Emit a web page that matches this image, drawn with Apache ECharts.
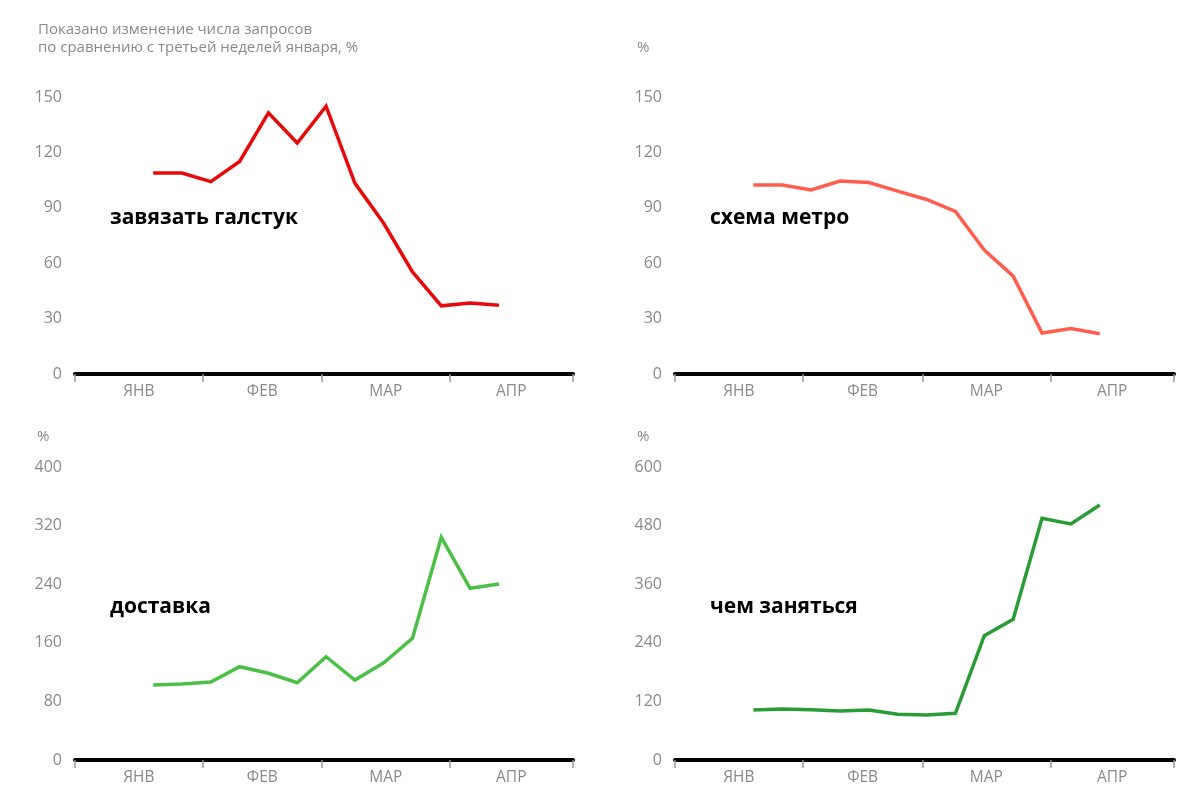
<!DOCTYPE html>
<html>
<head>
<meta charset="utf-8">
<script src="https://cdn.jsdelivr.net/npm/echarts@6/dist/echarts.min.js"></script>
<style>
html,body{margin:0;padding:0;background:#fff;}
#c{width:1200px;height:810px;}
</style>
</head>
<body>
<div id="c"></div>
<script>
// ---- data ----
const weeks = ['2020-01-20','2020-01-27','2020-02-03','2020-02-10','2020-02-17','2020-02-24',
  '2020-03-02','2020-03-09','2020-03-16','2020-03-23','2020-03-30','2020-04-06','2020-04-13'];
const monthNames = ['ЯНВ','ФЕВ','МАР','АПР'];
const monthStarts = ['2020-01-01','2020-02-01','2020-03-01','2020-04-01','2020-05-01'];
const tieValues = [108.8,108.8,104.2,115.1,141.4,125.1,145.0,103.4,81.6,55.3,36.9,38.5,37.2];
const metroValues = [102.4,102.4,99.7,104.5,103.7,99.0,94.5,88.0,67.1,53.0,22.2,24.6,21.8];
const deliveryValues = [102.4,103.8,106.5,127.4,118.4,105.5,141.0,109.2,132.8,166.1,304,234.4,240.3];
const whatToDoValues = [102.4,104.4,103.0,100.3,102.4,93.6,92.2,95.6,254.5,288.1,495,483.3,522.2];
const seriesNames = ['завязать галстук','схема метро','доставка','чем заняться'];
const yMax = [150,150,400,600];
const yStep = [30,30,80,120];
const colors = ['#e60a0a','#ff5e4e','#4cc046','#2a9c36'];
const headerText = ['Показано изменение числа запросов','по сравнению с третьей неделей января, %'];

// ---- helpers ----
const base = Date.UTC(2020,0,1);
function dayOf(s){const p=s.split('-').map(Number);return (Date.UTC(p[0],p[1]-1,p[2])-base)/86400000;}
const tickDays = monthStarts.map(dayOf);
const labelDays = tickDays.slice(0,4).map((d,i)=>(d+tickDays[i+1])/2);
const allValues = [tieValues,metroValues,deliveryValues,whatToDoValues];

const grids = [
  {left:75, width:498, top:97, height:277},
  {left:675, width:499, top:97, height:277},
  {left:75, width:498, top:467, height:293},
  {left:675, width:499, top:467, height:293}
];
const font = '"Open Sans", "Noto Sans", sans-serif';
const gray = '#8a8a8a';

const xAxis = [], yAxis = [], series = [];
for(let i=0;i<4;i++){
  xAxis.push({
    type:'value', gridIndex:i, min:0, max:tickDays[4],
    axisLine:{show:true, onZero:false, lineStyle:{color:'#000', width:4}},
    axisTick:{show:true, customValues:tickDays, length:8, lineStyle:{color:'#999', width:1.5}},
    axisLabel:{show:true, customValues:labelDays, color:gray, fontSize:15.5, fontFamily:font, margin:10,
      formatter:function(v){const k=labelDays.findIndex(d=>Math.abs(d-v)<0.01);return k>=0?monthNames[k]:'';}},
    splitLine:{show:false}
  });
  yAxis.push({
    type:'value', gridIndex:i, min:0, max:yMax[i], interval:yStep[i],
    axisLine:{show:false}, axisTick:{show:false}, splitLine:{show:false},
    axisLabel:{color:gray, fontSize:16, fontFamily:font, margin:13}
  });
  series.push({
    type:'line', name:seriesNames[i], xAxisIndex:i, yAxisIndex:i,
    data: weeks.map((w,j)=>[dayOf(w), allValues[i][j]]),
    showSymbol:false, symbol:'none',
    lineStyle:{color:colors[i], width:3.5, join:'miter'},
    z:3
  });
}

const graphic = [
  {type:'text', x:38, y:30, style:{text:headerText[0], font:'15px '+font, fill:'#8a8a8a', verticalAlign:'middle', textVerticalAlign:'middle'}},
  {type:'text', x:38, y:48, style:{text:headerText[1], font:'15px '+font, fill:'#8a8a8a', verticalAlign:'middle', textVerticalAlign:'middle'}},
  {type:'text', x:637, y:48, style:{text:'%', font:'15px '+font, fill:'#8a8a8a', verticalAlign:'middle', textVerticalAlign:'middle'}},
  {type:'text', x:37, y:437, style:{text:'%', font:'15px '+font, fill:'#8a8a8a', verticalAlign:'middle', textVerticalAlign:'middle'}},
  {type:'text', x:637, y:437, style:{text:'%', font:'15px '+font, fill:'#8a8a8a', verticalAlign:'middle', textVerticalAlign:'middle'}}
];
const labelPos = [[110,218],[710,218],[110,607],[710,607]];
for(let i=0;i<4;i++){
  graphic.push({type:'text', x:labelPos[i][0], y:labelPos[i][1], z:10,
    style:{text:seriesNames[i], font:'bold 21px '+font, fill:'#000', verticalAlign:'middle', textVerticalAlign:'middle'}});
}

const chart = echarts.init(document.getElementById('c'), null, {renderer:'canvas'});
chart.setOption({
  animation:false,
  backgroundColor:'#fff',
  grid:grids.map(g=>Object.assign({containLabel:false}, g)),
  xAxis, yAxis, series, graphic
});
</script>
</body>
</html>
